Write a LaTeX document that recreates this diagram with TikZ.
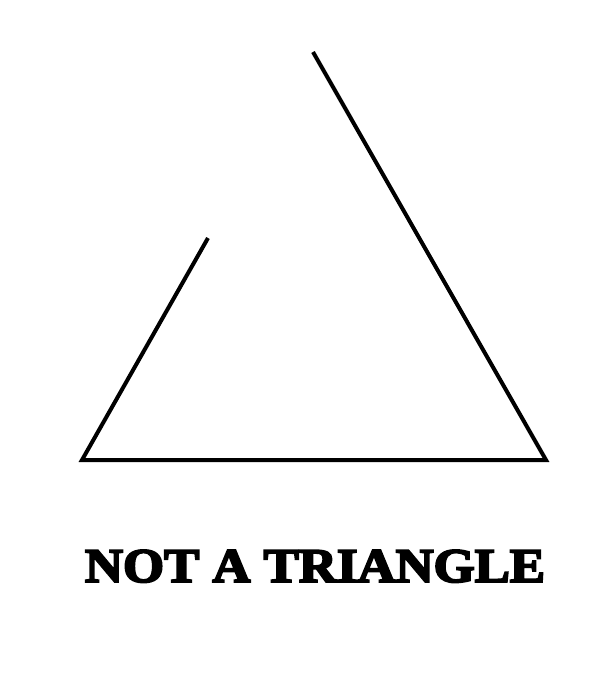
\documentclass[tikz,border=0pt]{standalone}
\usepackage{fontspec}
\newfontfamily\posterfont[BoldFeatures={FakeBold=4}]{Liberation Serif}
\usepackage{graphicx}
\begin{document}
\begin{tikzpicture}[x=0.75pt, y=-0.75pt,
  edge/.style={line width=3pt, black, line join=miter},
  caption/.style={inner sep=0pt, anchor=base, font=\posterfont\bfseries}]
  \useasboundingbox (0,0) rectangle (615,699);
  % Open figure
  \coordinate (gapend) at (208,238);
  \coordinate (left)   at (82,460);
  \coordinate (right)  at (546,460);
  \coordinate (apex)   at (313,52);
  \draw[edge] (gapend) -- (left) -- (right) -- (apex);
  % Caption
  \node[caption] (title) at (315,582)
        {\resizebox{345pt}{24pt}{NOT A TRIANGLE}};
\end{tikzpicture}
\end{document}
